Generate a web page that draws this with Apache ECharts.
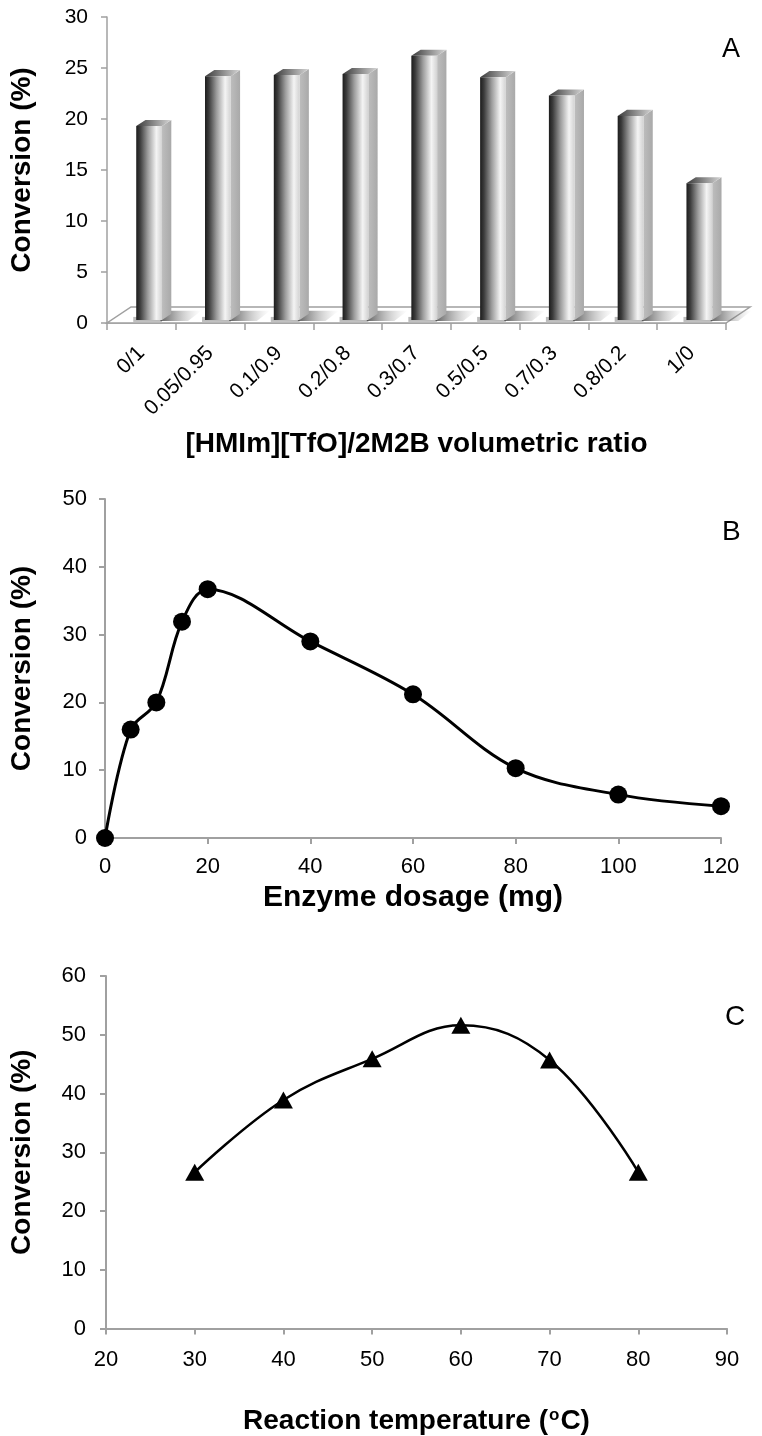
<!DOCTYPE html>
<html>
<head>
<meta charset="utf-8">
<script src="https://cdn.jsdelivr.net/npm/echarts@6/dist/echarts.min.js"></script>
<style>
html,body{margin:0;padding:0;background:#fff;}
#main{width:762px;height:1436px;}
</style>
</head>
<body>
<div id="main"></div>
<script>
// ---------- Data ----------
const ratioCategories = ['0/1','0.05/0.95','0.1/0.9','0.2/0.8','0.3/0.7','0.5/0.5','0.7/0.3','0.8/0.2','1/0'];
const ratioConversion = [19.0, 23.9, 24.0, 24.1, 25.9, 23.8, 22.0, 20.0, 13.4];

const enzymeDosage = [0, 5, 10, 15, 20, 40, 60, 80, 100, 120];
const enzymeConversion = [0, 16.0, 20.0, 31.9, 36.7, 29.0, 21.2, 10.3, 6.4, 4.7];

const temperature = [30, 40, 50, 60, 70, 80];
const temperatureConversion = [26.6, 38.9, 45.9, 51.6, 45.7, 26.6];

// ---------- Styles ----------
const AXIS_GRAY = '#a0a0a0';
const FONT = "'Liberation Sans', Arial, sans-serif";

const chart = echarts.init(document.getElementById('main'), null, {renderer: 'canvas'});

function axisLineStyle(w){ return {show: true, lineStyle: {color: AXIS_GRAY, width: w}}; }

// floor of the 3D bar chart (drawn from the grid's coordinate system)
function renderFloor(params, api){
  const cs = params.coordSys;
  const dX = 24, dY = 16;
  const x0 = cs.x, x1 = cs.x + cs.width, yb = cs.y + cs.height;
  return {
    type: 'polygon',
    shape: {points: [[x0, yb], [x1, yb], [x1 + dX, yb - dY], [x0 + dX, yb - dY]]},
    style: {fill: '#ffffff', stroke: AXIS_GRAY, lineWidth: 1.5}
  };
}

function renderBar3D(params, api){
  const i = api.value(0), v = api.value(1);
  const base = api.coord([i, 0]);
  const top = api.coord([i, v]);
  const bw = api.size([1, 0])[0];
  const lift = bw * 0.045;
  const fx0 = base[0] - bw * 0.075;
  const fw = bw * 0.375;
  const fx1 = fx0 + fw;
  const dx = bw * 0.135, dy = bw * 0.088;
  const yb = base[1] - lift;
  const yt = top[1] - lift;
  const children = [];
  // shadow on the floor
  children.push({
    type: 'polygon',
    shape: {points: [[fx1 - 2, yb + 1], [fx1 + 26, yb + 1], [fx1 + dx + 30, yb - dy - 3], [fx1 + dx - 2, yb - dy - 3]]},
    style: {fill: new echarts.graphic.LinearGradient(0, 0, 1, 0, [
      {offset: 0, color: 'rgba(40,40,40,0.75)'},
      {offset: 0.5, color: 'rgba(90,90,90,0.35)'},
      {offset: 1, color: 'rgba(160,160,160,0)'}
    ])}
  });
  children.push({
    type: 'polygon',
    shape: {points: [[fx0 - 3, yb + 2], [fx1, yb + 2], [fx1, yb - 3], [fx0 - 3, yb - 3]]},
    style: {fill: 'rgba(60,60,60,0.35)'}
  });
  // side face
  children.push({
    type: 'polygon',
    shape: {points: [[fx1, yt], [fx1 + dx, yt - dy], [fx1 + dx, yb - dy], [fx1, yb]]},
    style: {fill: new echarts.graphic.LinearGradient(0, 0, 1, 0, [
      {offset: 0, color: '#bdbdbd'}, {offset: 1, color: '#a9a9a9'}
    ])}
  });
  // top face
  children.push({
    type: 'polygon',
    shape: {points: [[fx0, yt], [fx1, yt], [fx1 + dx, yt - dy], [fx0 + dx, yt - dy]]},
    style: {fill: new echarts.graphic.LinearGradient(0, 0, 1, 0, [
      {offset: 0, color: '#3a3a3a'}, {offset: 0.6, color: '#9a9a9a'}, {offset: 1, color: '#d6d6d6'}
    ])}
  });
  // front face
  children.push({
    type: 'rect',
    shape: {x: fx0, y: yt, width: fw, height: yb - yt},
    style: {fill: new echarts.graphic.LinearGradient(0, 0, 1, 0, [
      {offset: 0, color: '#1c1c1c'},
      {offset: 0.15, color: '#3c3c3c'},
      {offset: 0.45, color: '#9c9c9c'},
      {offset: 0.78, color: '#f4f4f4'},
      {offset: 1, color: '#d2d2d2'}
    ])}
  });
  return {type: 'group', children: children};
}

const option = {
  backgroundColor: '#ffffff',
  animation: false,
  textStyle: {fontFamily: FONT},
  grid: [
    {left: 107, top: 17, width: 619, height: 306},
    {left: 105, top: 499, width: 616, height: 339},
    {left: 106, top: 976, width: 621, height: 353}
  ],
  xAxis: [
    {
      gridIndex: 0, type: 'category', data: ratioCategories, boundaryGap: true,
      axisLine: axisLineStyle(1.5),
      axisTick: {show: true, length: 7, interval: 0, lineStyle: {color: AXIS_GRAY, width: 1.5}},
      axisLabel: {rotate: 45, interval: 0, margin: 27, color: '#000', fontSize: 21, fontFamily: FONT},
      splitLine: {show: false},
      name: '[HMIm][TfO]/2M2B volumetric ratio', nameLocation: 'middle', nameGap: 107,
      nameTextStyle: {fontSize: 28, fontWeight: 'bold', color: '#000', fontFamily: FONT}
    },
    {
      gridIndex: 1, type: 'value', min: 0, max: 120, interval: 20,
      axisLine: axisLineStyle(2),
      axisTick: {show: true, length: 6, lineStyle: {color: AXIS_GRAY, width: 2}},
      axisLabel: {margin: 18, color: '#000', fontSize: 22, fontFamily: FONT},
      splitLine: {show: false},
      name: 'Enzyme dosage (mg)', nameLocation: 'middle', nameGap: 45,
      nameTextStyle: {fontSize: 30, fontWeight: 'bold', color: '#000', fontFamily: FONT}
    },
    {
      gridIndex: 2, type: 'value', min: 20, max: 90, interval: 10,
      axisLine: axisLineStyle(2),
      axisTick: {show: true, length: 6, lineStyle: {color: AXIS_GRAY, width: 2}},
      axisLabel: {margin: 20, color: '#000', fontSize: 22, fontFamily: FONT},
      splitLine: {show: false},
      name: 'Reaction temperature ({sup|o}C)', nameLocation: 'middle', nameGap: 78,
      nameTextStyle: {fontSize: 28, fontWeight: 'bold', color: '#000', fontFamily: FONT,
        rich: {sup: {fontSize: 17, fontWeight: 'bold', color: '#000', fontFamily: FONT, verticalAlign: 'top', padding: [0, 1, 12, 1]}}}
    }
  ],
  yAxis: [
    {
      gridIndex: 0, type: 'value', min: 0, max: 30, interval: 5,
      axisLine: axisLineStyle(1.5),
      axisTick: {show: true, length: 6, lineStyle: {color: AXIS_GRAY, width: 1.5}},
      axisLabel: {margin: 19, color: '#000', fontSize: 21, fontFamily: FONT},
      splitLine: {show: false},
      name: 'Conversion (%)', nameLocation: 'middle', nameGap: 71,
      nameTextStyle: {fontSize: 28, fontWeight: 'bold', color: '#000', fontFamily: FONT}
    },
    {
      gridIndex: 1, type: 'value', min: 0, max: 50, interval: 10,
      axisLine: axisLineStyle(2),
      axisTick: {show: true, length: 6, lineStyle: {color: AXIS_GRAY, width: 2}},
      axisLabel: {margin: 18, color: '#000', fontSize: 22, fontFamily: FONT},
      splitLine: {show: false},
      name: 'Conversion (%)', nameLocation: 'middle', nameGap: 69,
      nameTextStyle: {fontSize: 28, fontWeight: 'bold', color: '#000', fontFamily: FONT}
    },
    {
      gridIndex: 2, type: 'value', min: 0, max: 60, interval: 10,
      axisLine: axisLineStyle(2),
      axisTick: {show: true, length: 6, lineStyle: {color: AXIS_GRAY, width: 2}},
      axisLabel: {margin: 20, color: '#000', fontSize: 22, fontFamily: FONT},
      splitLine: {show: false},
      name: 'Conversion (%)', nameLocation: 'middle', nameGap: 70,
      nameTextStyle: {fontSize: 28, fontWeight: 'bold', color: '#000', fontFamily: FONT}
    }
  ],
  series: [
    {
      type: 'custom', xAxisIndex: 0, yAxisIndex: 0, z: 1,
      renderItem: renderFloor, data: [0], silent: true
    },
    {
      type: 'custom', xAxisIndex: 0, yAxisIndex: 0, z: 3,
      renderItem: renderBar3D,
      encode: {x: 0, y: 1},
      data: ratioConversion.map((v, i) => [i, v])
    },
    {
      type: 'line', xAxisIndex: 1, yAxisIndex: 1,
      data: enzymeDosage.map((x, i) => [x, enzymeConversion[i]]),
      smooth: 0.35, symbol: 'circle', symbolSize: 18,
      lineStyle: {color: '#000', width: 3}, itemStyle: {color: '#000'}
    },
    {
      type: 'line', xAxisIndex: 2, yAxisIndex: 2,
      data: temperature.map((x, i) => [x, temperatureConversion[i]]),
      smooth: 0.4, symbol: 'triangle', symbolSize: [19, 17],
      lineStyle: {color: '#000', width: 2.5}, itemStyle: {color: '#000'}
    }
  ],
  graphic: [
    {type: 'text', left: 722, top: 36, style: {text: 'A', fontSize: 27, fill: '#000', fontFamily: FONT}},
    {type: 'text', left: 722, top: 518, style: {text: 'B', fontSize: 28, fill: '#000', fontFamily: FONT}},
    {type: 'text', left: 725, top: 1003, style: {text: 'C', fontSize: 28, fill: '#000', fontFamily: FONT}}
  ]
};

chart.setOption(option);
</script>
</body>
</html>
